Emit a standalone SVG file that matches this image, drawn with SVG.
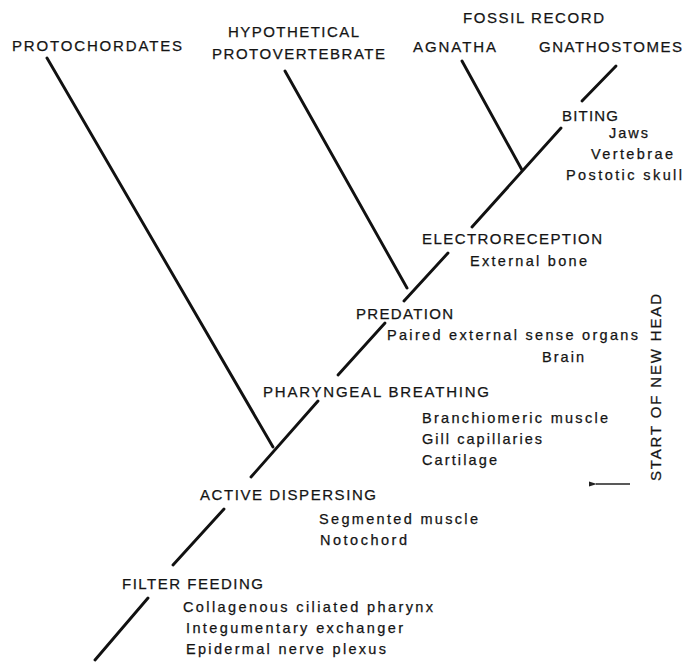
<svg xmlns="http://www.w3.org/2000/svg" width="696" height="662" viewBox="0 0 696 662">
<style>
text{font-family:"Liberation Sans",Arial,Helvetica,sans-serif;fill:#141414;stroke:#141414;stroke-width:0.25}
.c{font-size:15px}
.l{font-size:14.5px}
.ln{stroke:#111;stroke-width:2.9;stroke-linecap:round;fill:none}
</style>
<defs>
<marker id="ah" markerWidth="8" markerHeight="6" refX="1" refY="3" orient="auto" markerUnits="userSpaceOnUse">
<path d="M0,3 L8,0.6 L8,5.4 Z" fill="#222"/>
</marker>
</defs>
<rect width="696" height="662" fill="#fff"/>
<g id="connectors">
<line class="ln" x1="95" y1="660" x2="148" y2="598"/>
<line class="ln" x1="173" y1="565" x2="224" y2="509"/>
<line class="ln" x1="251" y1="477" x2="318" y2="401"/>
<line class="ln" x1="338" y1="375" x2="385" y2="323"/>
<line class="ln" x1="404" y1="301" x2="448" y2="253"/>
<line class="ln" x1="472" y1="227" x2="561" y2="128"/>
<line class="ln" x1="582" y1="101" x2="616" y2="66"/>
<line class="ln" x1="47" y1="58" x2="273" y2="447"/>
<line class="ln" x1="285" y1="71" x2="407" y2="288"/>
<line class="ln" x1="462" y1="61" x2="522" y2="170"/>
</g>
<g id="fossil-record"><text class="c" x="463" y="23" textLength="141" lengthAdjust="spacing">FOSSIL RECORD</text></g>
<g id="protochordates"><text class="c" x="12" y="51" textLength="170" lengthAdjust="spacing">PROTOCHORDATES</text></g>
<g id="hypothetical-protovertebrate">
<text class="c" x="228" y="37" textLength="131" lengthAdjust="spacing">HYPOTHETICAL</text>
<text class="c" x="212" y="59" textLength="173" lengthAdjust="spacing">PROTOVERTEBRATE</text>
</g>
<g id="agnatha"><text class="c" x="413" y="52" textLength="83" lengthAdjust="spacing">AGNATHA</text></g>
<g id="gnathostomes"><text class="c" x="539" y="52" textLength="143" lengthAdjust="spacing">GNATHOSTOMES</text></g>
<g id="biting">
<text class="c" x="562" y="121" textLength="56" lengthAdjust="spacing">BITING</text>
<text class="l" x="609" y="138" textLength="39" lengthAdjust="spacing">Jaws</text>
<text class="l" x="591" y="159" textLength="82" lengthAdjust="spacing">Vertebrae</text>
<text class="l" x="566" y="180" textLength="116" lengthAdjust="spacing">Postotic skull</text>
</g>
<g id="electroreception">
<text class="c" x="422" y="244" textLength="180" lengthAdjust="spacing">ELECTRORECEPTION</text>
<text class="l" x="470" y="266" textLength="117" lengthAdjust="spacing">External bone</text>
</g>
<g id="predation">
<text class="c" x="356" y="319" textLength="97" lengthAdjust="spacing">PREDATION</text>
<text class="l" x="387" y="340" textLength="251" lengthAdjust="spacing">Paired external sense organs</text>
<text class="l" x="542" y="362" textLength="42" lengthAdjust="spacing">Brain</text>
</g>
<g id="pharyngeal-breathing">
<text class="c" x="263" y="397" textLength="226" lengthAdjust="spacing">PHARYNGEAL BREATHING</text>
<text class="l" x="422" y="423" textLength="186" lengthAdjust="spacing">Branchiomeric muscle</text>
<text class="l" x="422" y="444" textLength="120" lengthAdjust="spacing">Gill capillaries</text>
<text class="l" x="422" y="465" textLength="75" lengthAdjust="spacing">Cartilage</text>
</g>
<g id="active-dispersing">
<text class="c" x="200" y="500" textLength="176" lengthAdjust="spacing">ACTIVE DISPERSING</text>
<text class="l" x="319" y="524" textLength="159" lengthAdjust="spacing">Segmented muscle</text>
<text class="l" x="320" y="545" textLength="87" lengthAdjust="spacing">Notochord</text>
</g>
<g id="filter-feeding">
<text class="c" x="122" y="589" textLength="141" lengthAdjust="spacing">FILTER FEEDING</text>
<text class="l" x="183" y="612" textLength="250" lengthAdjust="spacing">Collagenous ciliated pharynx</text>
<text class="l" x="186" y="633" textLength="217" lengthAdjust="spacing">Integumentary exchanger</text>
<text class="l" x="186" y="654" textLength="200" lengthAdjust="spacing">Epidermal nerve plexus</text>
</g>
<g id="start-of-new-head">
<text class="c" transform="translate(661,481) rotate(-90)" x="0" y="0" textLength="187" lengthAdjust="spacing">START OF NEW HEAD</text>
<line x1="630" y1="484" x2="596" y2="484" stroke="#222" stroke-width="1.6" marker-end="url(#ah)"/>
</g>
</svg>
